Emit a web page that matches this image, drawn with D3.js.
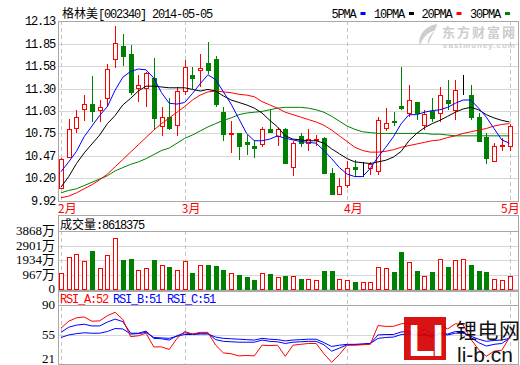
<!DOCTYPE html>
<html>
<head>
<meta charset="utf-8">
<script src="https://d3js.org/d3.v7.min.js"></script>
<style>
  body { margin: 0; background: #fff; }
  svg { display: block; }
</style>
</head>
<body>
<svg width="520" height="365"></svg>
<script>
// daily bars, 2014-02-07 .. 2014-05-05
var months = ["2月", "3月", "4月", "5月"];
var monthIdx = [0, 16, 37, 58];

var open = [10.08, 10.47, 10.82, 11.05, 11.11, 11.04, 11.19, 11.66, 11.82, 11.72,
	11.30, 11.31, 11.43, 10.84, 10.95, 10.85, 11.27, 11.47, 11.53, 11.62,
	11.66, 11.01, 10.74, 10.75, 10.64, 10.59, 10.62, 10.81, 10.72, 10.80,
	10.34, 10.72, 10.63, 10.67, 10.69, 10.26, 10.01, 10.12, 10.34, 10.33,
	10.32, 10.28, 10.82, 10.90, 11.09, 11.00, 11.13, 10.86, 11.03, 11.00,
	11.16, 11.03, 11.29, 11.22, 10.95, 10.71, 10.41, 10.60, 10.60];
var high = [10.45, 10.93, 11.04, 11.22, 11.45, 11.16, 11.60, 12.07, 11.97, 11.83,
	11.47, 11.50, 11.68, 11.08, 11.18, 11.32, 11.65, 11.57, 11.72, 11.87,
	11.70, 11.08, 10.90, 10.76, 10.73, 10.67, 10.83, 11.04, 10.82, 10.82,
	10.66, 10.75, 10.81, 10.73, 10.71, 10.32, 10.20, 10.41, 10.42, 10.40,
	10.40, 10.95, 11.06, 11.01, 11.57, 11.34, 11.13, 11.04, 11.18, 11.32,
	11.40, 11.40, 11.47, 11.34, 11.00, 10.75, 10.63, 10.69, 10.87];
var low = [10.07, 10.45, 10.76, 10.90, 10.89, 10.89, 11.07, 11.55, 11.58, 11.22,
	11.14, 11.08, 10.79, 10.72, 10.79, 10.72, 11.22, 11.30, 11.32, 11.48,
	11.08, 10.66, 10.51, 10.42, 10.48, 10.45, 10.58, 10.77, 10.59, 10.37,
	10.23, 10.58, 10.54, 10.59, 10.25, 9.99, 9.99, 10.08, 10.22, 10.22,
	10.24, 10.24, 10.78, 10.84, 11.04, 10.95, 10.91, 10.79, 10.89, 10.89,
	11.04, 10.92, 11.22, 10.92, 10.65, 10.37, 10.40, 10.54, 10.54];
var close = [10.44, 10.81, 10.95, 11.11, 11.03, 11.08, 11.54, 11.86, 11.70, 11.25,
	11.34, 11.49, 10.94, 10.95, 10.82, 11.27, 11.56, 11.43, 11.55, 11.54,
	11.11, 10.74, 10.75, 10.59, 10.61, 10.56, 10.80, 10.77, 10.80, 10.38,
	10.63, 10.64, 10.68, 10.68, 10.26, 10.00, 10.11, 10.33, 10.31, 10.33,
	10.37, 10.91, 10.88, 10.89, 11.07, 11.16, 10.99, 10.99, 10.95, 11.22,
	11.12, 11.28, 11.29, 10.95, 10.66, 10.45, 10.59, 10.61, 10.84];

var ma5 = [10.28, 10.40, 10.53, 10.71, 10.84, 10.97, 11.08, 11.28, 11.44, 11.51,
	11.54, 11.53, 11.43, 11.25, 11.12, 11.11, 11.13, 11.24, 11.36, 11.47,
	11.41, 11.26, 11.11, 10.93, 10.75, 10.66, 10.66, 10.68, 10.72, 10.69,
	10.67, 10.65, 10.64, 10.63, 10.54, 10.44, 10.33, 10.25, 10.22, 10.22,
	10.32, 10.46, 10.58, 10.71, 10.87, 10.98, 10.98, 11.01, 11.03, 11.04,
	11.07, 11.12, 11.16, 11.16, 11.06, 10.95, 10.81, 10.67, 10.63];
var ma10 = [10.09, 10.22, 10.38, 10.51, 10.62, 10.73, 10.87, 10.97, 11.10, 11.18,
	11.27, 11.33, 11.33, 11.32, 11.31, 11.31, 11.31, 11.29, 11.27, 11.29,
	11.27, 11.21, 11.16, 11.13, 11.10, 11.06, 11.00, 10.91, 10.83, 10.72,
	10.68, 10.67, 10.66, 10.66, 10.63, 10.56, 10.50, 10.44, 10.40, 10.39,
	10.38, 10.40, 10.42, 10.46, 10.53, 10.66, 10.75, 10.82, 10.87, 10.91,
	10.96, 11.01, 11.05, 11.07, 11.04, 10.98, 10.94, 10.91, 10.89];
var ma20 = [9.96, 9.98, 10.02, 10.07, 10.12, 10.18, 10.25, 10.34, 10.43, 10.52,
	10.61, 10.70, 10.79, 10.87, 10.94, 11.01, 11.08, 11.16, 11.22, 11.26,
	11.27, 11.26, 11.25, 11.23, 11.22, 11.20, 11.14, 11.10, 11.06, 11.01,
	10.98, 10.95, 10.92, 10.89, 10.85, 10.79, 10.72, 10.65, 10.58, 10.54,
	10.52, 10.52, 10.53, 10.55, 10.58, 10.60, 10.62, 10.64, 10.66, 10.67,
	10.70, 10.72, 10.75, 10.77, 10.79, 10.81, 10.84, 10.86, 10.87];
var ma30 = [10.02, 10.05, 10.07, 10.11, 10.15, 10.19, 10.23, 10.29, 10.33, 10.37,
	10.40, 10.44, 10.49, 10.54, 10.57, 10.63, 10.69, 10.73, 10.78, 10.83,
	10.87, 10.91, 10.94, 10.98, 11.00, 11.01, 11.02, 11.04, 11.06, 11.07,
	11.07, 11.07, 11.06, 11.04, 11.01, 10.96, 10.90, 10.84, 10.80, 10.77,
	10.76, 10.75, 10.75, 10.75, 10.75, 10.75, 10.75, 10.75, 10.74, 10.74,
	10.73, 10.72, 10.72, 10.72, 10.72, 10.72, 10.72, 10.72, 10.72];

// volume in 万股
var volume = [1047, 2113, 2313, 1867, 2533, 1400, 2247, 3380, 1933, 2000,
	1267, 1400, 1933, 1600, 1467, 1267, 1867, 1087, 1600, 1600,
	1533, 1267, 1047, 933, 820, 600, 1047, 1000, 800, 867,
	867, 667, 667, 600, 1200, 1200, 667, 600, 467, 467,
	467, 1467, 1400, 1133, 2467, 1800, 1200, 867, 1133, 2000,
	1467, 1933, 2000, 1600, 1200, 1133, 667, 600, 862];

var rsiA = [63, 71, 75, 76, 71, 71.5, 77.5, 81.5, 73, 53,
	54, 57, 41, 41, 38, 51, 59, 56, 58, 58,
	43, 34, 33, 30.5, 31, 30.5, 43, 42.5, 43, 30,
	43, 44, 45, 45, 33, 23, 32, 43, 43, 43.5,
	44, 66, 65, 65, 68, 69, 56, 62, 55, 66,
	62, 68, 67, 50, 38, 30, 36, 37, 52];
var rsiB = [58, 64, 66.5, 67.5, 65.5, 65.5, 70, 73.5, 70.5, 57,
	57, 59.5, 51, 50.5, 49, 54, 57.5, 56, 57, 57,
	49.5, 47.5, 47, 46.5, 46.5, 46.5, 49, 47.5, 47, 45,
	46.5, 47, 47.5, 47.5, 43.5, 36, 39.5, 43.5, 43.5, 44,
	45, 55, 55.5, 55.5, 58.5, 59, 54, 56, 53, 58,
	56, 59, 59, 52, 46, 42, 44, 45, 51];
var rsiC = [52, 55, 56.5, 57.5, 57, 57, 59, 62.5, 62, 56,
	56.5, 58, 52, 51.5, 51, 53.5, 55.5, 55.5, 56, 56,
	52.5, 51, 50.5, 50, 49.5, 49, 51, 50, 49.5, 48,
	49, 49.5, 50, 50, 46, 41.5, 43, 44, 44, 44.5,
	45, 51, 52, 52.5, 55.5, 56, 54, 55, 53.5, 56,
	55, 57, 57, 53.5, 50, 47.5, 48.5, 49, 51];

var priceTicks = [12.13, 11.85, 11.58, 11.30, 11.03, 10.75, 10.47, 10.20, 9.92];
var volTicks = [0, 967, 1934, 2901, 3868];
var rsiTicks = [21, 55, 90];

var svg = d3.select("svg");
var L = 58, R = 519;
var RED = "#ff0000", GREEN = "#008000", BLUE = "#0000ff";
var mono = "'Liberation Mono', 'Noto Sans CJK SC', monospace";

var x = d3.scaleLinear().domain([0, 58]).range([61, 509.5]);
var y = d3.scaleLinear().domain([9.92, 12.13]).range([201, 21]);
var yv = d3.scaleLinear().domain([0, 3868]).range([289, 231]);
var yr = d3.scaleLinear().domain([21, 90]).range([364, 305]);

function px(v) { return Math.round(v) + 0.5; }
function col(i) { return close[i] > open[i] ? RED : close[i] < open[i] ? GREEN : "#000"; }
var idx = d3.range(open.length);

function grid(scale, ticks, top, bottom) {
	svg.append("g").selectAll("line").data(ticks).enter().append("line")
		.attr("x1", L).attr("x2", R)
		.attr("y1", function (d) { return px(scale(d)); })
		.attr("y2", function (d) { return px(scale(d)); })
		.attr("stroke", "#d6d6d6");
	svg.append("g").selectAll("line").data(monthIdx).enter().append("line")
		.attr("x1", function (d) { return px(x(d)); })
		.attr("x2", function (d) { return px(x(d)); })
		.attr("y1", top).attr("y2", bottom)
		.attr("stroke", "#c4c4c4")
		.attr("stroke-dasharray", "4,3");
}

function labels(scale, ticks, fmt, font, size, spacing) {
	svg.append("g").selectAll("text").data(ticks).enter().append("text")
		.attr("x", 55)
		.attr("y", function (d) { return Math.min(363, scale(d) + 4); })
		.attr("text-anchor", "end")
		.attr("font-family", font)
		.attr("font-size", size)
		.attr("letter-spacing", spacing || "0")
		.text(fmt);
}

// ---- main price panel
grid(y, priceTicks, 21, 201);
labels(y, priceTicks, function (d) { return d.toFixed(2); }, mono, "12px", "-1.2px");

var candle = svg.append("g").selectAll("g").data(idx).enter().append("g");
candle.append("line")
	.attr("x1", function (i) { return px(x(i)); })
	.attr("x2", function (i) { return px(x(i)); })
	.attr("y1", function (i) { return Math.round(y(high[i])); })
	.attr("y2", function (i) { return Math.round(y(low[i])); })
	.attr("stroke", col);
candle.append("rect")
	.attr("x", function (i) { return Math.round(x(i)) - 1.5; })
	.attr("width", 4)
	.attr("y", function (i) { return px(y(Math.max(open[i], close[i]))); })
	.attr("height", function (i) { return Math.max(0, Math.round(y(Math.min(open[i], close[i])) - y(Math.max(open[i], close[i])))); })
	.attr("fill", function (i) { return close[i] > open[i] ? "#fff" : col(i); })
	.attr("stroke", col);

var maLine = function (arr) {
	return d3.line().x(function (d, i) { return x(i); }).y(function (d) { return y(d); })(arr);
};
[[ma30, GREEN], [ma20, RED], [ma10, "#000"], [ma5, BLUE]].forEach(function (m) {
	svg.append("path").attr("d", maLine(m[0])).attr("fill", "none")
		.attr("stroke", m[1]).attr("stroke-width", 1);
});

svg.append("rect").attr("x", L + 0.5).attr("y", 21.5).attr("width", R - L - 1).attr("height", 180)
	.attr("fill", "none").attr("stroke", "#a8a8a8");

// month labels
svg.append("g").selectAll("text").data(monthIdx).enter().append("text")
	.attr("x", function (d) { return Math.min(x(d) - 3, 501); })
	.attr("y", 213)
	.attr("fill", RED)
	.attr("font-family", "'Noto Sans CJK SC', sans-serif")
	.attr("font-size", "12px")
	.text(function (d, i) { return months[i]; });

// title + legend
var title = svg.append("text").attr("x", 62).attr("y", 18)
	.attr("font-family", mono).attr("font-size", "12px").attr("letter-spacing", "-1.2px");
title.append("tspan").attr("font-family", "'Noto Sans CJK SC'").attr("letter-spacing", "0").text("格林美");
title.append("tspan").text("[002340] 2014-05-05");

var legend = [["5PMA", BLUE, 331.5], ["10PMA", "#000", 374], ["20PMA", RED, 421.5], ["30PMA", GREEN, 470]];
legend.forEach(function (d) {
	svg.append("text").attr("x", d[2]).attr("y", 18)
		.attr("font-family", mono).attr("font-size", "12px").attr("letter-spacing", "-1.2px")
		.text(d[0]);
	svg.append("rect").attr("x", d[2] + d[0].length * 6 + 5).attr("y", 12)
		.attr("width", 5).attr("height", 3).attr("fill", d[1]);
});

// watermark
var wm = svg.append("g").attr("fill", "#cdcdcd");
wm.append("path").attr("d", "M437,24 C425,26 417,36 420,46 C422,38 428,32 436,30 C430,34 427,40 428,45 C431,36 436,30 437,24 Z");
wm.append("text").attr("x", 442).attr("y", 37).attr("font-family", "'Noto Sans CJK SC'")
	.attr("font-weight", "bold").attr("font-size", "13px").attr("letter-spacing", "2px").text("东方财富网");
wm.append("text").attr("x", 443).attr("y", 48).attr("font-family", "'Liberation Sans'")
	.attr("font-weight", "bold").attr("font-size", "8px").attr("letter-spacing", "1px").text("eastmoney.com");

// ---- volume panel
grid(yv, volTicks, 231, 289);
labels(yv, volTicks, function (d) { return d ? d + "万" : "0"; }, "'Liberation Serif', 'Noto Sans CJK SC'", "13px");
svg.append("g").selectAll("rect").data(idx).enter().append("rect")
	.attr("x", function (i) { return Math.round(x(i)) - 1.5; })
	.attr("width", 4)
	.attr("y", function (i) { return px(yv(volume[i])); })
	.attr("height", function (i) { return Math.round(yv(0) - yv(volume[i])); })
	.attr("fill", function (i) { return close[i] >= open[i] ? "#fff" : GREEN; })
	.attr("stroke", function (i) { return close[i] >= open[i] ? RED : GREEN; });
svg.append("rect").attr("x", L + 0.5).attr("y", 215.5).attr("width", R - L - 1).attr("height", 75)
	.attr("fill", "none").attr("stroke", "#a8a8a8");
svg.append("line").attr("x1", L).attr("x2", R).attr("y1", 231.5).attr("y2", 231.5).attr("stroke", "#a8a8a8");
var vt = svg.append("text").attr("x", 60).attr("y", 229).attr("font-size", "12px")
	.attr("font-family", "'Noto Sans CJK SC'");
vt.append("tspan").text("成交量");
vt.append("tspan").attr("font-family", mono).attr("letter-spacing", "-1.2px").text(":8618375");

// ---- RSI panel
grid(yr, rsiTicks, 293, 364);
labels(yr, rsiTicks, function (d) { return d; }, "'Liberation Serif'", "13px");
var rsiLine = d3.line().x(function (d, i) { return x(i); }).y(function (d) { return yr(d); });
[[rsiC, BLUE], [rsiB, BLUE], [rsiA, RED]].forEach(function (m) {
	svg.append("path").attr("d", rsiLine(m[0])).attr("fill", "none").attr("stroke", m[1]);
});
svg.append("rect").attr("x", L + 0.5).attr("y", 291.5).attr("width", R - L - 1).attr("height", 73)
	.attr("fill", "none").attr("stroke", "#a8a8a8");
svg.append("line").attr("x1", L).attr("x2", R).attr("y1", 305.5).attr("y2", 305.5).attr("stroke", "#a8a8a8");
var rsiHead = [["RSI_A:" + rsiA[58], RED, 60], ["RSI_B:" + rsiB[58], BLUE, 113], ["RSI_C:" + rsiC[58], BLUE, 167]];
rsiHead.forEach(function (d) {
	svg.append("text").attr("x", d[2]).attr("y", 303).attr("fill", d[1])
		.attr("font-family", mono).attr("font-size", "12px").attr("letter-spacing", "-1.2px").text(d[0]);
});

// li-b.cn logo
var logo = svg.append("g").attr("opacity", 0.92);
logo.append("rect").attr("x", 404).attr("y", 317).attr("width", 42).attr("height", 43).attr("fill", "#d60000");
logo.append("text").attr("x", 408).attr("y", 356).attr("fill", "#fff").attr("font-family", "'Liberation Sans'")
	.attr("font-weight", "bold").attr("font-size", "44px").attr("letter-spacing", "-3px").text("LI");
logo.append("text").attr("x", 456).attr("y", 338).attr("font-family", "'Noto Sans CJK SC'")
	.attr("font-size", "21px").attr("letter-spacing", "0.5px").text("锂电网");
logo.append("text").attr("x", 457).attr("y", 362).attr("font-family", "'Liberation Sans'")
	.attr("font-size", "21px").text("li-b.cn");
</script>
</body>
</html>
